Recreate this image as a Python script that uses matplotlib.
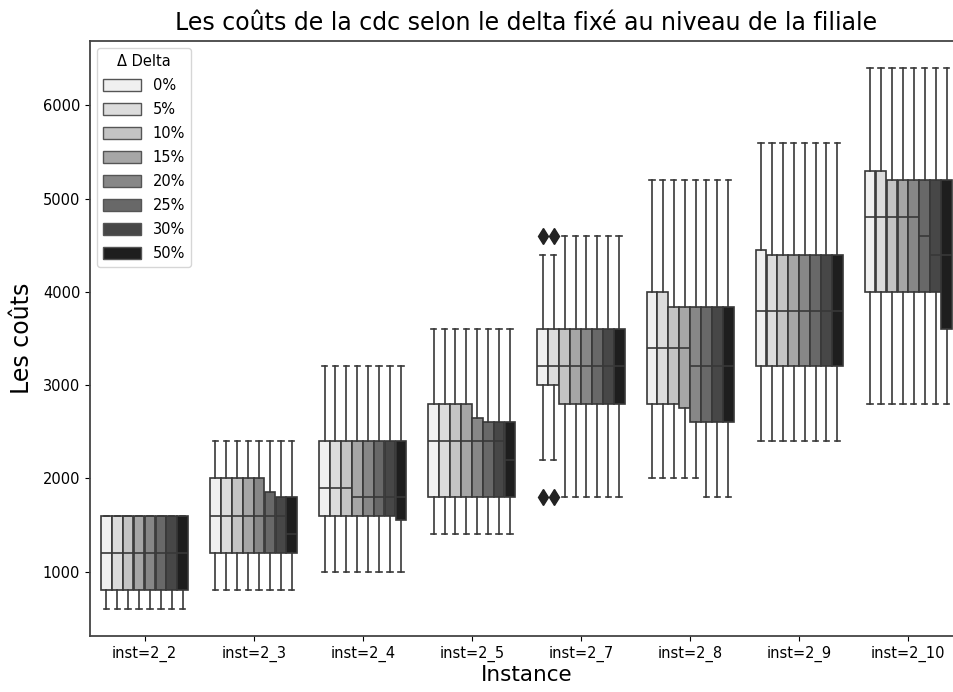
import matplotlib
matplotlib.use("Agg")
import matplotlib.pyplot as plt
from matplotlib.patches import Patch
import numpy as np

instances = ["inst=2_2", "inst=2_3", "inst=2_4", "inst=2_5",
             "inst=2_7", "inst=2_8", "inst=2_9", "inst=2_10"]
deltas = ["0%", "5%", "10%", "15%", "20%", "25%", "30%", "50%"]
colors = ["#f0f0f0", "#dcdcdc", "#c4c4c4", "#a6a6a6",
          "#878787", "#686868", "#474747", "#1e1e1e"]

# rows: instances, columns: deltas
whislo = [
    [600] * 8,
    [800] * 8,
    [1000] * 8,
    [1400] * 8,
    [2200, 2200, 1800, 1800, 1800, 1800, 1800, 1800],
    [2000, 2000, 2000, 2000, 2000, 1800, 1800, 1800],
    [2400] * 8,
    [2800] * 8,
]
q1 = [
    [800] * 8,
    [1200] * 8,
    [1600, 1600, 1600, 1600, 1600, 1600, 1600, 1550],
    [1800] * 8,
    [3000, 3000, 2800, 2800, 2800, 2800, 2800, 2800],
    [2800, 2800, 2800, 2750, 2600, 2600, 2600, 2600],
    [3200] * 8,
    [4000, 4000, 4000, 4000, 4000, 4000, 4000, 3600],
]
med = [
    [1200] * 8,
    [1600, 1600, 1600, 1600, 1600, 1600, 1600, 1400],
    [1900, 1900, 1900, 1800, 1800, 1800, 1800, 1800],
    [2400, 2400, 2400, 2400, 2400, 2400, 2400, 2200],
    [3200] * 8,
    [3400, 3400, 3400, 3400, 3200, 3200, 3200, 3200],
    [3800] * 8,
    [4800, 4800, 4800, 4800, 4800, 4600, 4400, 4400],
]
q3 = [
    [1600] * 8,
    [2000, 2000, 2000, 2000, 2000, 1850, 1800, 1800],
    [2400] * 8,
    [2800, 2800, 2800, 2800, 2650, 2600, 2600, 2600],
    [3600] * 8,
    [4000, 4000, 3840, 3840, 3840, 3840, 3840, 3840],
    [4450, 4400, 4400, 4400, 4400, 4400, 4400, 4400],
    [5300, 5300, 5200, 5200, 5200, 5200, 5200, 5200],
]
whishi = [
    [1600] * 8,
    [2400] * 8,
    [3200] * 8,
    [3600] * 8,
    [4400, 4400, 4600, 4600, 4600, 4600, 4600, 4600],
    [5200] * 8,
    [5600] * 8,
    [6400] * 8,
]
fliers = {(4, 0): [1800, 4600], (4, 1): [1800, 4600]}

fig = plt.figure(figsize=(9.54, 6.92), dpi=100)
ax = fig.add_axes([0.0943, 0.0809, 0.915, 0.8599])

line_col = "#383838"
n_h = len(deltas)
bw = 0.8 / n_h
for i, inst in enumerate(instances):
    for j in range(n_h):
        st = dict(whislo=whislo[i][j], q1=q1[i][j], med=med[i][j],
                  q3=q3[i][j], whishi=whishi[i][j],
                  fliers=fliers.get((i, j), []))
        pos = i - 0.4 + bw / 2 + j * bw
        ax.bxp([st], positions=[pos], widths=bw * 0.98, patch_artist=True,
               manage_ticks=False, showfliers=True,
               boxprops=dict(facecolor=colors[j], edgecolor=line_col, linewidth=1.2),
               medianprops=dict(color=line_col, linewidth=1.2),
               whiskerprops=dict(color=line_col, linewidth=1.2),
               capprops=dict(color=line_col, linewidth=1.2),
               flierprops=dict(marker="d", markerfacecolor="#222222",
                               markeredgecolor="#222222", markersize=8))

ax.set_xticks(range(len(instances)))
ax.set_xticklabels(instances, fontsize=10.5)
ax.set_xlim(-0.5, len(instances) - 0.5)
ax.set_ylim(310, 6690)
ax.set_yticks([1000, 2000, 3000, 4000, 5000, 6000])
ax.tick_params(axis="y", labelsize=10.5)
for sp in ax.spines.values():
    sp.set_color("#444444")
    sp.set_linewidth(1.3)
ax.spines["right"].set_visible(False)

ax.set_xlabel("Instance", fontsize=15.5, labelpad=2)
ax.set_ylabel("Les coûts", fontsize=17, labelpad=6)
ax.set_title("Les coûts de la cdc selon le delta fixé au niveau de la filiale",
             fontsize=17, pad=8)

handles = [Patch(facecolor=c, edgecolor="#555555", label=d) for c, d in zip(colors, deltas)]
leg = ax.legend(handles=handles, title="Δ Delta", loc="upper left",
                fontsize=10.5, title_fontsize=10.5, handlelength=2.6,
                handleheight=0.9, labelspacing=0.62)

fig.savefig("out.png", dpi=100)
